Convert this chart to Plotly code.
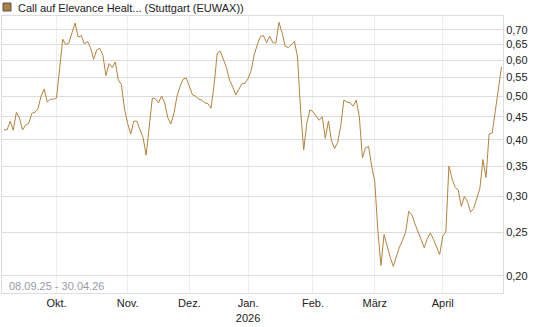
import pandas as pd
import plotly.graph_objects as go

# Trading days (Stuttgart) from 08.09.25 to 30.04.26
holidays = ["2025-12-24", "2025-12-25", "2025-12-26", "2025-12-31",
            "2026-01-01", "2026-04-03", "2026-04-06"]
dates = [d for d in pd.bdate_range("2025-09-08", "2026-04-30")
         if d.strftime("%Y-%m-%d") not in holidays]

prices = [
    0.421, 0.421, 0.440, 0.420, 0.460, 0.447, 0.421, 0.431, 0.435, 0.458,
    0.460, 0.469, 0.500, 0.518, 0.485, 0.492, 0.492, 0.495, 0.575, 0.668,
    0.650, 0.655, 0.690, 0.725, 0.675, 0.680, 0.652, 0.660, 0.640, 0.603,
    0.632, 0.638, 0.615, 0.555, 0.590, 0.578, 0.595, 0.543, 0.530, 0.468,
    0.435, 0.412, 0.440, 0.440, 0.421, 0.405, 0.370, 0.430, 0.495, 0.493,
    0.483, 0.500, 0.483, 0.448, 0.434, 0.458, 0.500, 0.525, 0.545, 0.548,
    0.525, 0.503, 0.500, 0.492, 0.490, 0.483, 0.481, 0.470, 0.530, 0.622,
    0.628, 0.605, 0.578, 0.542, 0.525, 0.503, 0.518, 0.532, 0.534, 0.546,
    0.570, 0.618, 0.650, 0.677, 0.680, 0.656, 0.678, 0.656, 0.655, 0.728,
    0.690, 0.644, 0.640, 0.650, 0.660, 0.610, 0.465, 0.380, 0.435, 0.466,
    0.462, 0.452, 0.442, 0.450, 0.403, 0.440, 0.398, 0.383, 0.395, 0.430,
    0.490, 0.485, 0.483, 0.475, 0.490, 0.450, 0.365, 0.384, 0.387, 0.350,
    0.323, 0.252, 0.211, 0.247, 0.232, 0.220, 0.210, 0.221, 0.232, 0.240,
    0.250, 0.278, 0.273, 0.261, 0.251, 0.241, 0.231, 0.242, 0.249, 0.241,
    0.232, 0.223, 0.245, 0.250, 0.350, 0.328, 0.314, 0.310, 0.285, 0.300,
    0.292, 0.277, 0.282, 0.298, 0.312, 0.362, 0.330, 0.412, 0.414, 0.463,
    0.515, 0.580,
]

month_labels = ["Okt.", "Nov.", "Dez.", "Jan.<br>2026", "Feb.", "März", "April"]
month_starts = ["2025-10", "2025-11", "2025-12", "2026-01", "2026-02", "2026-03", "2026-04"]
y_ticks = [0.20, 0.25, 0.30, 0.35, 0.40, 0.45, 0.50, 0.55, 0.60, 0.65, 0.70]

title_text = "Call auf Elevance Healt... (Stuttgart (EUWAX))"
range_text = "08.09.25 - 30.04.26"

n = min(len(dates), len(prices))
idx = list(range(n))
month_keys = [d.strftime("%Y-%m") for d in dates[:n]]
tick_idx = [month_keys.index(m) for m in month_starts]

LINE = "#b5833c"
fig = go.Figure()
fig.add_trace(go.Scatter(x=idx, y=prices[:n], mode="lines",
                         line=dict(color=LINE, width=1), hoverinfo="skip"))

W, H = 545, 327
L, R, T, B = 2, 42, 16, 34
pw, ph = W - L - R, H - T - B

fig.update_layout(
    width=W, height=H,
    margin=dict(l=L, r=R, t=T, b=B, pad=0),
    paper_bgcolor="white", plot_bgcolor="white",
    showlegend=False,
    separators=",.",
    font=dict(family="Liberation Sans, Arial, sans-serif", size=11, color="#222"),
    xaxis=dict(
        range=[-0.65, n - 0.5],
        tickvals=tick_idx, ticktext=month_labels,
        showgrid=True, gridcolor="#eeeeee", gridwidth=1,
        showline=True, linecolor="#dddddd", linewidth=1, mirror=True,
        zeroline=False, ticks="", tickfont=dict(size=11, color="#222"),
    ),
    yaxis=dict(
        type="log", side="right",
        range=[-0.7366, -0.1240],
        tickvals=y_ticks, ticktext=[f"{v:.2f}".replace(".", ",") for v in y_ticks],
        showgrid=True, gridcolor="#dddddd", gridwidth=1,
        showline=True, linecolor="#dddddd", linewidth=1, mirror=True,
        zeroline=False, ticks="", tickfont=dict(size=11, color="#222"),
    ),
)

# legend square + title
fig.add_shape(type="rect", xref="paper", yref="paper",
              x0=(3 - L) / pw, x1=(11 - L) / pw,
              y0=1 + (T - 11) / ph, y1=1 + (T - 3) / ph,
              fillcolor="#b08040", line=dict(color="#555555", width=1))
fig.add_annotation(text=title_text, xref="paper", yref="paper",
                   x=(16 - L) / pw, y=1 + (T - 8) / ph, xanchor="left", yanchor="middle",
                   showarrow=False, font=dict(size=11, color="#222"))
fig.add_annotation(text=range_text, xref="paper", yref="paper",
                   x=(7 - L) / pw, y=7 / ph, xanchor="left", yanchor="middle",
                   showarrow=False, font=dict(size=11, color="#9a9aaa"))

fig.write_html("out.html")
